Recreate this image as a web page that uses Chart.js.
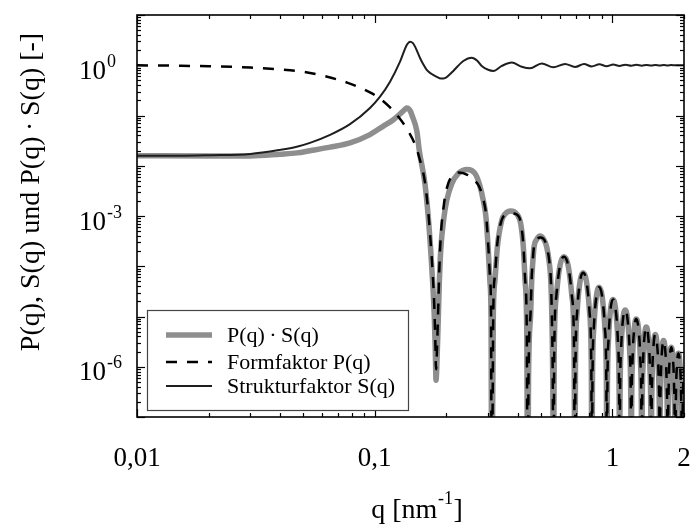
<!DOCTYPE html>
<html>
<head>
<meta charset="utf-8">
<script src="https://cdn.jsdelivr.net/npm/chart.js@4.4.1/dist/chart.umd.min.js"></script>
<style>
html,body{margin:0;padding:0;background:#fff;}
#c{display:block;}
</style>
</head>
<body>
<canvas id="c" width="696" height="526"></canvas>
<script>
// ---- data (q in nm^-1, values as log10 of the y value) ----
const qStruct = [0.01, 0.015, 0.02, 0.03, 0.04, 0.047, 0.0534, 0.0649, 0.0787, 0.0955, 0.1053, 0.116, 0.1278, 0.1364, 0.1408, 0.1445, 0.1478, 0.1551, 0.16, 0.1655, 0.173, 0.1823, 0.19, 0.1975, 0.205, 0.2141, 0.2359, 0.2559, 0.27, 0.2819, 0.30, 0.3155, 0.3422, 0.3771, 0.4153, 0.4499, 0.5041, 0.5642, 0.6319, 0.6963, 0.7596, 0.8181, 0.8808, 0.945, 1.008, 1.07, 1.135, 1.2, 1.262, 1.33, 1.39, 1.455, 1.52, 1.58, 1.645, 1.71, 1.77, 1.835, 1.9, 1.96, 2.0];
const logStruct = [-1.80, -1.80, -1.79, -1.765, -1.684, -1.622, -1.545, -1.386, -1.173, -0.849, -0.624, -0.326, 0.072, 0.404, 0.47, 0.445, 0.37, 0.145, 0.02, -0.093, -0.17, -0.23, -0.265, -0.255, -0.2, -0.113, 0.085, 0.151, 0.09, -0.014, -0.09, -0.113, -0.014, 0.055, -0.03, -0.062, 0.036, -0.042, 0.026, -0.034, 0.024, -0.024, 0.018, -0.02, 0.014, -0.014, 0.011, -0.01, 0.008, -0.008, 0.006, -0.006, 0.005, -0.004, 0.004, -0.003, 0.003, -0.002, 0.002, -0.001, 0];

const qFormLow = [0.01, 0.015, 0.02, 0.03, 0.04, 0.05, 0.062, 0.077, 0.0955, 0.105, 0.116, 0.126, 0.1388, 0.1478];
const logFormLow = [0, -0.01, -0.02, -0.045, -0.083, -0.13, -0.22, -0.35, -0.54, -0.66, -0.84, -1.03, -1.32, -1.58];

const qProdLow = [0.01, 0.02, 0.03, 0.04, 0.0471, 0.0534, 0.0649, 0.0787, 0.0955, 0.1083, 0.1194, 0.1278, 0.1347, 0.1364, 0.1408, 0.1433, 0.1505];
const logProdLow = [-1.80, -1.805, -1.805, -1.77, -1.744, -1.70, -1.63, -1.545, -1.38, -1.215, -1.09, -0.97, -0.87, -0.85, -0.90, -0.99, -1.32];

const qArches = [0.154, 0.1627, 0.168, 0.172, 0.1754, 0.1781, 0.1798, 0.1811, 0.1834, 0.1852, 0.1869, 0.1895, 0.1956, 0.2009, 0.2108, 0.2247, 0.2452, 0.2642, 0.2754, 0.2863, 0.2938, 0.3005, 0.3055, 0.3085, 0.3106, 0.3155, 0.3206, 0.328, 0.3422, 0.3534, 0.3733, 0.3957, 0.4113, 0.4219, 0.4289, 0.436, 0.4403, 0.4435, 0.453, 0.4575, 0.462, 0.4679, 0.48, 0.496, 0.512, 0.5293, 0.5429, 0.5502, 0.5556, 0.561, 0.565];
const logFormArches = [-1.84, -2.33, -2.92, -3.54, -4.15, -4.80, -5.45, -6.05, -5.43, -4.76, -4.09, -3.42, -2.76, -2.45, -2.21, -2.135, -2.18, -2.30, -2.42, -2.67, -2.96, -3.60, -4.24, -4.90, -9, -4.83, -4.17, -3.54, -3.08, -2.98, -2.95, -2.97, -3.13, -3.58, -4.23, -5.22, -9, -6.24, -4.88, -4.22, -3.90, -3.60, -3.47, -3.43, -3.45, -3.61, -3.91, -4.24, -4.90, -6.25, -9];
const logProdArches = [-1.698, -2.36, -3.024, -3.686, -4.342, -5.012, -5.674, -6.27, -5.674, -5.012, -4.348, -3.686, -3.024, -2.692, -2.36, -2.155, -2.076, -2.155, -2.36, -2.692, -3.024, -3.686, -4.342, -5.012, -9, -4.94, -4.28, -3.62, -3.09, -2.96, -2.90, -2.96, -3.155, -3.62, -4.28, -5.28, -9, -6.3, -4.944, -4.28, -3.944, -3.62, -3.47, -3.40, -3.45, -3.62, -3.944, -4.28, -4.94, -6.3, -9];

// above q = 0.565 the dashed and grey curves lie on top of each other
const qTail = [0.5689, 0.5806, 0.6014, 0.6248, 0.6508, 0.6755, 0.6898, 0.695,
  0.6988, 0.710, 0.730, 0.7525, 0.7775, 0.8013, 0.815, 0.820,
  0.8238, 0.8354, 0.8558, 0.8789, 0.9045, 0.9288, 0.9429, 0.948,
  0.9517, 0.9629, 0.9827, 1.005, 1.0298, 1.0534, 1.067, 1.072,
  1.0758, 1.0874, 1.1078, 1.1309, 1.1565, 1.1808, 1.1949, 1.200,
  1.2039, 1.2155, 1.2361, 1.2593, 1.2851, 1.3097, 1.3238, 1.329,
  1.3328, 1.3442, 1.3646, 1.3874, 1.4128, 1.437, 1.4509, 1.456,
  1.4598, 1.4711, 1.4913, 1.514, 1.5392, 1.5631, 1.577, 1.582,
  1.5858, 1.5972, 1.6176, 1.6404, 1.6658, 1.69, 1.7039, 1.709,
  1.7128, 1.7242, 1.7446, 1.7674, 1.7928, 1.817, 1.8309, 1.836,
  1.8398, 1.8512, 1.8716, 1.8944, 1.9198, 1.944, 1.9579, 1.963,
  1.9668, 1.9782, 2.0];
const logTail = [-5.76, -4.60, -3.99, -3.81, -3.98, -4.60, -5.71, -9,
  -6.08, -4.92, -4.31, -4.13, -4.30, -4.92, -6.03, -9,
  -6.37, -5.21, -4.60, -4.42, -4.59, -5.21, -6.32, -9,
  -6.61, -5.45, -4.84, -4.66, -4.83, -5.45, -6.56, -9,
  -6.82, -5.66, -5.05, -4.87, -5.04, -5.66, -6.77, -9,
  -7.0, -5.84, -5.23, -5.05, -5.22, -5.84, -6.95, -9,
  -7.16, -6.0, -5.39, -5.21, -5.38, -6.0, -7.11, -9,
  -7.31, -6.15, -5.54, -5.36, -5.53, -6.15, -7.26, -9,
  -7.43, -6.27, -5.66, -5.48, -5.65, -6.27, -7.38, -9,
  -7.56, -6.40, -5.79, -5.61, -5.78, -6.40, -7.51, -9,
  -7.68, -6.52, -5.91, -5.73, -5.90, -6.52, -7.63, -9,
  -7.8, -6.64, -6.03];

const seriesNames = ['P(q)\u2009\u00B7\u2009S(q)', 'Formfaktor P(q)', 'Strukturfaktor S(q)'];
const xTickValues = [0.01, 0.1, 1, 2];
const xTickLabels = ['0,01', '0,1', '1', '2'];
const yTickValues = [1, 1e-3, 1e-6];
const yTickBase = '10';
const yTickExponents = ['0', '-3', '-6'];
const yTitle = 'P(q), S(q) und P(q)\u2009\u00B7\u2009S(q) [-]';
const xTitleParts = ['q [nm', '-1', ']'];

// ---- build library data ----
function toPoints(qs, logs) {
  return qs.map((q, i) => ({ x: q, y: Math.pow(10, logs[i]) }));
}
const prodData = toPoints(qProdLow.concat(qArches, qTail), logProdLow.concat(logProdArches, logTail));
const formData = toPoints(qFormLow.concat(qArches, qTail), logFormLow.concat(logFormArches, logTail));
const structData = toPoints(qStruct, logStruct);

const SERIF = '"Liberation Serif", "Times New Roman", serif';
const styles = [
  { color: '#8e8e8e', width: 5.5, dash: [] },
  { color: '#000000', width: 2.5, dash: [11, 10] },
  { color: '#1e1e1e', width: 2, dash: [] }
];

const decorPlugin = {
  id: 'decor',
  afterDatasetsDraw(chart) {
    const { ctx, chartArea: a, scales: { x, y } } = chart;
    ctx.save();
    ctx.setLineDash([]);
    // ticks (inward, all four sides)
    ctx.strokeStyle = '#000';
    ctx.lineWidth = 1.2;
    function seg(x1, y1, x2, y2) { ctx.beginPath(); ctx.moveTo(x1, y1); ctx.lineTo(x2, y2); ctx.stroke(); }
    for (let k = -7; k <= 1; k++) {
      for (let m = 1; m <= 9; m++) {
        const v = m * Math.pow(10, k);
        if (v > 10.0001) break;
        const py = Math.round(y.getPixelForValue(v)) + 0.5;
        const len = m === 1 ? 8 : 4;
        seg(a.left, py, a.left + len, py);
        seg(a.right, py, a.right - len, py);
      }
    }
    for (let k = -2; k <= 0; k++) {
      for (let m = 1; m <= 9; m++) {
        const v = m * Math.pow(10, k);
        if (v > 2.0001) break;
        const px = Math.round(x.getPixelForValue(v)) + 0.5;
        const len = m === 1 ? 8 : 4;
        seg(px, a.bottom, px, a.bottom - len);
        seg(px, a.top, px, a.top + len);
      }
    }
    // frame
    ctx.lineWidth = 1.6;
    ctx.strokeRect(a.left, a.top, a.right - a.left, a.bottom - a.top);

    // tick labels
    ctx.fillStyle = '#000';
    ctx.textBaseline = 'alphabetic';
    ctx.textAlign = 'center';
    ctx.font = '27px ' + SERIF;
    xTickValues.forEach((v, i) => {
      ctx.fillText(xTickLabels[i], x.getPixelForValue(v), 466);
    });
    ctx.textAlign = 'left';
    yTickValues.forEach((v, i) => {
      const py = y.getPixelForValue(v);
      ctx.font = '27px ' + SERIF;
      ctx.fillText(yTickBase, 79, py + 13.5);
      const w = ctx.measureText(yTickBase).width;
      ctx.font = '18px ' + SERIF;
      ctx.fillText(yTickExponents[i], 79 + w + 1, py + 1.5);
    });

    // x title
    ctx.font = '28px ' + SERIF;
    const w0 = ctx.measureText(xTitleParts[0]).width;
    const w2 = ctx.measureText(xTitleParts[2]).width;
    ctx.font = '18px ' + SERIF;
    const w1 = ctx.measureText(xTitleParts[1]).width;
    const sx = 417 - (w0 + w1 + w2 + 1) / 2;
    ctx.font = '28px ' + SERIF;
    ctx.fillText(xTitleParts[0], sx, 518);
    ctx.font = '18px ' + SERIF;
    ctx.fillText(xTitleParts[1], sx + w0 + 0.5, 504);
    ctx.font = '28px ' + SERIF;
    ctx.fillText(xTitleParts[2], sx + w0 + w1 + 1, 518);

    // y title
    ctx.save();
    ctx.translate(39, 192);
    ctx.rotate(-Math.PI / 2);
    ctx.textAlign = 'center';
    ctx.font = '28px ' + SERIF;
    ctx.fillText(yTitle, 0, 0);
    ctx.restore();

    // legend
    const lx = 147.5, ly = 310.5, lw = 261, lh = 100;
    ctx.fillStyle = '#fff';
    ctx.fillRect(lx, ly, lw, lh);
    ctx.strokeStyle = '#444';
    ctx.lineWidth = 1.2;
    ctx.strokeRect(lx, ly, lw, lh);
    const rows = [335, 362, 386];
    chart.data.datasets.forEach((ds, i) => {
      const st = styles[i];
      ctx.strokeStyle = st.color;
      ctx.lineWidth = st.width;
      ctx.setLineDash(st.dash);
      ctx.beginPath();
      ctx.moveTo(166, rows[i]);
      ctx.lineTo(212, rows[i]);
      ctx.stroke();
      ctx.setLineDash([]);
      ctx.fillStyle = '#000';
      ctx.font = '22px ' + SERIF;
      ctx.textAlign = 'left';
      ctx.fillText(ds.label, 227, rows[i] + 7);
    });
    ctx.restore();
  }
};

new Chart(document.getElementById('c'), {
  type: 'line',
  data: {
    datasets: [
      { label: seriesNames[0], data: prodData, borderColor: styles[0].color, borderWidth: styles[0].width, order: 3, clip: 0 },
      { label: seriesNames[1], data: formData, borderColor: styles[1].color, borderWidth: styles[1].width, borderDash: styles[1].dash, order: 2, clip: 0 },
      { label: seriesNames[2], data: structData, borderColor: styles[2].color, borderWidth: styles[2].width, order: 1, clip: 0 }
    ]
  },
  options: {
    responsive: false,
    animation: false,
    devicePixelRatio: 1,
    elements: {
      point: { radius: 0, hoverRadius: 0 },
      line: { tension: 0, cubicInterpolationMode: 'monotone', borderJoinStyle: 'round', borderCapStyle: 'butt', fill: false }
    },
    layout: { padding: { left: 0, right: 12, top: 15, bottom: 0 } },
    scales: {
      x: {
        type: 'logarithmic', min: 0.01, max: 2,
        ticks: { display: false }, grid: { display: false }, border: { display: false },
        afterFit(s) { s.height = 109; }
      },
      y: {
        type: 'logarithmic', min: 1e-7, max: 10,
        ticks: { display: false }, grid: { display: false }, border: { display: false },
        afterFit(s) { s.width = 137; }
      }
    },
    plugins: { legend: { display: false }, tooltip: { enabled: false } },
    events: []
  },
  plugins: [decorPlugin]
});
</script>
</body>
</html>
